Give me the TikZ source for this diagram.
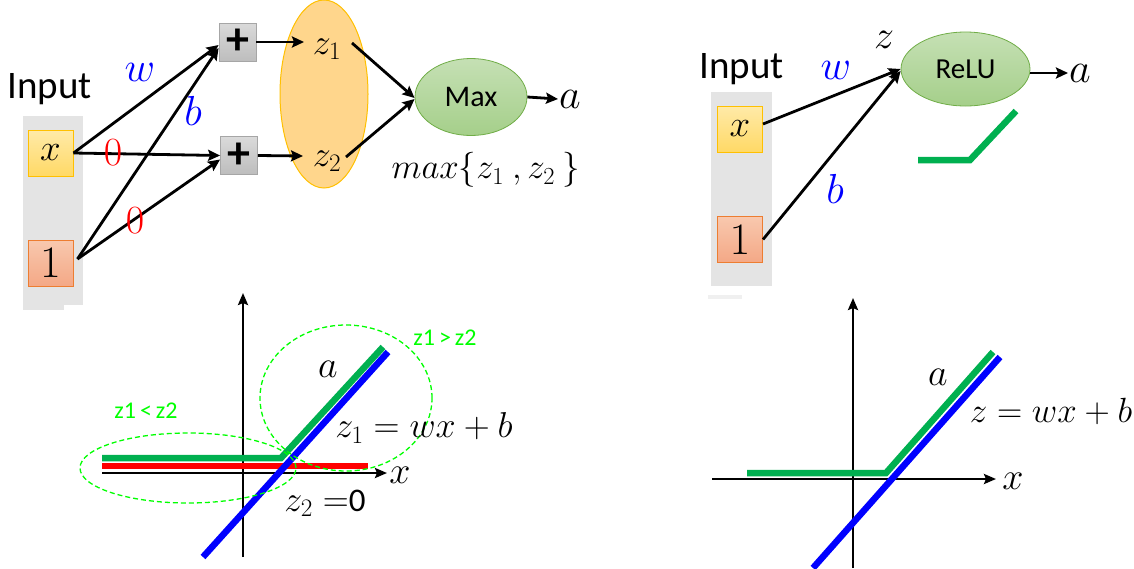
\RequirePackage{fix-cm}
\documentclass[tikz,border=0pt]{standalone}
\usepackage{fontspec}
\setmainfont{Carlito}
\usetikzlibrary{arrows.meta,shapes.geometric}
\definecolor{inbg}{HTML}{E4E4E4}
\definecolor{yTop}{HTML}{FFEAA8}
\definecolor{yBot}{HTML}{FFD966}
\definecolor{yDraw}{HTML}{FFC000}
\definecolor{oTop}{HTML}{F8C8AE}
\definecolor{oBot}{HTML}{F4A886}
\definecolor{oDraw}{HTML}{ED7D31}
\definecolor{gTop}{HTML}{DADADA}
\definecolor{gBot}{HTML}{BDBDBD}
\definecolor{gDraw}{HTML}{A6A6A6}
\definecolor{zFill}{HTML}{FFD68C}
\definecolor{eTop}{HTML}{C5E0B4}
\definecolor{eBot}{HTML}{A5CF8A}
\definecolor{eDraw}{HTML}{70AD47}
\definecolor{lineGreen}{HTML}{00B050}
\definecolor{dashGreen}{HTML}{00FF00}
\newcommand\myfs[1]{\fontsize{#1}{#1}\selectfont}
\begin{document}
\begin{tikzpicture}[x=1pt,y=-1pt,
  inboxx/.style={draw=yDraw,line width=1pt,top color=yTop,bottom color=yBot,minimum width=45pt,minimum height=46pt,inner sep=0pt},
  inboxone/.style={draw=oDraw,line width=1pt,top color=oTop,bottom color=oBot,minimum width=45pt,minimum height=46pt,inner sep=0pt},
  plusbox/.style={draw=gDraw,line width=0.8pt,top color=gTop,bottom color=gBot,minimum width=37pt,minimum height=38pt,inner sep=0pt},
  zell/.style={ellipse,draw=yDraw,line width=1pt,fill=zFill,inner sep=0pt},
  gell/.style={ellipse,draw=eDraw,line width=0.8pt,top color=eTop,bottom color=eBot,inner sep=0pt},
  lbl/.style={inner sep=1pt},
  conn/.style={line width=2.8pt,-{Stealth[length=12pt,width=11pt,inset=2pt]}},
  axis/.style={line width=2.5pt,-{Stealth[length=12pt,width=10pt,inset=2pt]}},
  fat/.style={line width=6.5pt},
  dsh/.style={draw=dashGreen,line width=1.3pt,dash pattern=on 5pt off 3pt},
  gtext/.style={inner sep=1pt,text=dashGreen}]
\useasboundingbox (0,0) rectangle (1134,568);

% ---------- top left ----------
\fill[inbg] (23,116) rectangle (83,305);
\fill[inbg] (23,305) rectangle (64,310);
\node[lbl] (inl) at (49.5,89) {\myfs{39}Input};
\node[inboxx] (inx) at (50.5,153) {\myfs{37}$x$};
\node[inboxone] (in1) at (50.5,263) {\myfs{45}$1$};
\node[plusbox] (p1) at (237.5,42) {\myfs{46}\textbf{+}};
\node[plusbox] (p2) at (239,155.5) {\myfs{46}\textbf{+}};
\node[zell,minimum width=88pt,minimum height=188pt] (zg) at (324,94) {};
\node[lbl] (z1) at (327,49) {\myfs{36}$z_1$};
\node[lbl] (z2) at (327,161) {\myfs{36}$z_2$};
\coordinate (z1in) at (304,42);
\coordinate (z2in) at (303,156);
\coordinate (z1out) at (352,43);
\coordinate (z2out) at (346,157);
\node[gell,minimum width=112pt,minimum height=77pt] (mx) at (471,97) {\myfs{30}Max};
\node[lbl,anchor=west] (aout) at (558,99) {\myfs{42}$a$};
\node[lbl] (mxt) at (486,170) {\myfs{35}$max\{z_1\ ,z_2\ \}$};

\draw[conn] (inx.east) -- ([yshift=-3pt]p1.west);
\draw[conn] (inx.east) -- (p2.west);
\draw[conn] ([xshift=4pt,yshift=4pt]in1.east) -- ([yshift=-6pt]p1.west);
\draw[conn] ([xshift=4pt,yshift=4pt]in1.east) -- ([yshift=-4pt]p2.west);
\draw[conn] (p1.east) -- (z1in);
\draw[conn] (p2.east) -- (z2in);
\draw[conn] (z1out) -- ([yshift=-1pt]mx.west);
\draw[conn] (z2out) -- ([yshift=-2pt]mx.west);
\draw[conn] (mx.east) -- (aout.west);

\node[lbl,text=blue] (lw) at (140,72) {\myfs{42}$w$};
\node[lbl,text=blue] (lb) at (193,111) {\myfs{42}$b$};
\node[lbl,text=red] (l0a) at (113,153) {\myfs{40}$0$};
\node[lbl,text=red] (l0b) at (135,221) {\myfs{40}$0$};

% ---------- top right ----------
\fill[inbg] (711,92) rectangle (772,286);
\fill[black!6] (708,295) rectangle (742,299);
\node[lbl] (inr) at (741.5,69) {\myfs{39}Input};
\node[inboxx] (rx) at (740,129) {\myfs{37}$x$};
\node[inboxone] (r1) at (740,239.5) {\myfs{45}$1$};
\node[gell,minimum width=129pt,minimum height=74pt] (relu) at (965.5,69) {\myfs{29}ReLU};
\node[lbl,anchor=west] (ra) at (1068,73) {\myfs{42}$a$};
\node[lbl] (rz) at (884,40) {\myfs{40}$z$};
\node[lbl,text=blue] (rw) at (836,70) {\myfs{42}$w$};
\node[lbl,text=blue] (rb) at (835,189) {\myfs{42}$b$};
\draw[conn] ([yshift=5pt]rx.east) -- (relu.west);
\draw[conn] (r1.east) -- ([yshift=-2pt]relu.west);
\draw[conn] ([yshift=-4pt]relu.east) -- (ra.west);
\draw[fat,draw=lineGreen] (918,160) -- (970,160) -- (1016,111);

% ---------- bottom left ----------
\draw[axis] (243,557) -- (243,293);
\draw[axis] (102,473) -- (387,473);
\draw[fat,draw=lineGreen] (102,458) -- (281,458) -- (383,347);
\draw[fat,draw=red] (102,466) -- (368,466);
\draw[fat,draw=blue] (203,557) -- (388,352);
\draw[dsh] (346,398) ellipse [x radius=86pt, y radius=73pt];
\draw[dsh] (188,468) ellipse [x radius=108pt, y radius=35pt];
\node[lbl] (bla) at (328,369) {\myfs{38}$a$};
\node[lbl] (blz1) at (424,428) {\myfs{36}$z_1 = wx + b$};
\node[lbl] (blz2) at (325,503) {\myfs{36}$z_2 =$\myfs{33}0};
\node[lbl] (blx) at (400,475) {\myfs{38}$x$};
\node[gtext] (g1) at (445,338) {\myfs{24}z1\,>\,z2};
\node[gtext] (g2) at (146,411) {\myfs{24}z1\,<\,z2};

% ---------- bottom right ----------
\draw[axis] (853,568) -- (853,298);
\draw[axis] (712,479) -- (996,479);
\draw[fat,draw=lineGreen] (747,473) -- (886,473) -- (993,352);
\draw[fat,draw=blue] (813,568) -- (1000,357);
\node[lbl] (bra) at (938,377) {\myfs{38}$a$};
\node[lbl] (brz) at (1051,411) {\myfs{35}$z = wx + b$};
\node[lbl] (brx) at (1013,481) {\myfs{38}$x$};
\end{tikzpicture}
\end{document}
